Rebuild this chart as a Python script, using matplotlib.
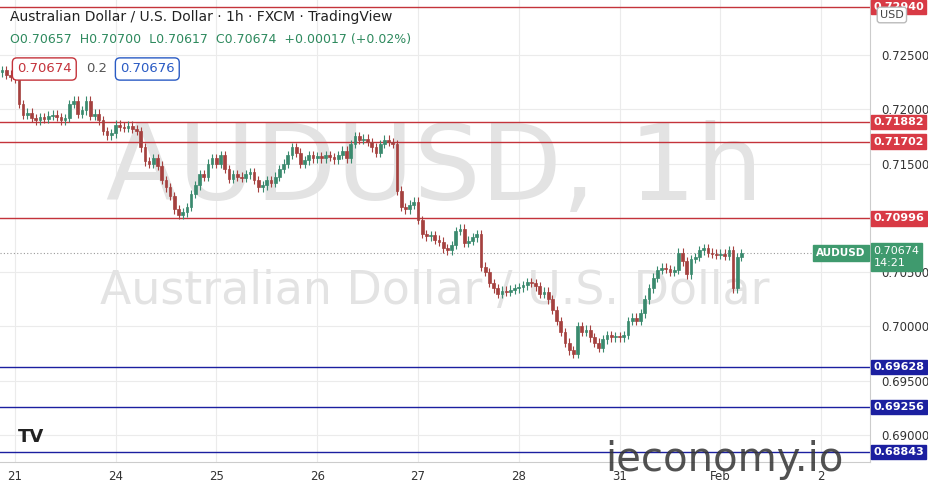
import matplotlib
matplotlib.use("Agg")
import matplotlib.pyplot as plt
from matplotlib.patches import Rectangle

closes = [0.7236,0.7232,0.7230,0.7228,
 0.7205,0.7195,0.7197,0.7192,0.7190,
 0.7193,0.7191,0.7194,0.7195,0.7193,0.7190,0.7192,
 0.7205,0.7208,0.7196,0.7199,
 0.7208,0.7194,0.7196,0.7190,0.7180,0.7176,0.7178,
 0.7186,0.7184,0.7183,0.7185,0.7182,0.7180,
 0.7165,0.7152,0.7150,0.7155,0.7148,0.7135,0.7128,0.7120,
 0.7108,0.7103,0.7105,0.7110,0.7122,0.7130,
 0.7140,0.7138,0.7150,0.7155,0.7150,0.7158,
 0.7145,0.7136,0.7140,0.7138,0.7137,0.7140,0.7142,0.7135,
 0.7128,0.7130,0.7135,0.7132,0.7138,0.7145,0.7150,
 0.7158,0.7165,0.7160,0.7150,0.7153,0.7158,0.7155,
 0.7157,0.7155,0.7158,0.7156,0.7154,0.7158,0.7162,0.7155,
 0.7168,0.7175,0.7172,0.7173,0.7170,0.7165,0.7160,0.7168,
 0.7172,0.7170,0.7168,
 0.7125,0.7110,0.7108,0.7112,0.7115,0.7098,
 0.7085,0.7083,0.7084,0.7080,0.7078,0.7072,0.7070,
 0.7075,0.7088,0.7090,0.7077,0.7079,0.7082,
 0.7085,0.7055,0.7050,0.7040,0.7035,
 0.7030,0.7033,0.7032,0.7034,0.7035,0.7036,0.7038,
 0.7041,0.7040,0.7037,0.7030,0.7032,0.7025,0.7015,
 0.7005,0.6995,0.6985,0.6978,0.6975,0.7000,
 0.6995,0.6997,0.6990,0.6985,0.6980,0.6988,
 0.6992,0.6990,0.6991,0.6990,0.6992,0.7005,0.7008,
 0.7005,0.7012,0.7025,0.7035,0.7045,
 0.7052,0.7054,0.7053,0.7050,0.7052,
 0.7068,0.7060,0.7048,0.7062,0.7064,
 0.7070,0.7072,0.7068,0.7067,0.7066,0.7067,0.7065,
 0.7070,0.7035,0.7064,0.70674]
first_open = 0.7234
day_labels = ["21", "24", "25", "26", "27", "28", "31", "Feb", "2"]
day_index = [3, 27, 51, 75, 99, 123, 147, 171, 195]
red_levels = [0.72940, 0.71882, 0.71702, 0.70996]
blue_levels = [0.69628, 0.69256, 0.68843]
price_ticks = [0.725, 0.720, 0.715, 0.710, 0.705, 0.700, 0.695, 0.690]

UP, DN = "#3a8a6e", "#a5413f"
fig = plt.figure(figsize=(9.29, 4.94), dpi=100)
ax = fig.add_axes([0, 32/494, 870/929, 462/494])
ymin, ymax = 0.68751, 0.73007
xmin, xmax = -0.5, 206.6
ax.set_xlim(xmin, xmax); ax.set_ylim(ymin, ymax)

for p in price_ticks:
    ax.axhline(p, color="#ebebeb", lw=0.8, zorder=0)
for d in day_index:
    ax.axvline(d, color="#ebebeb", lw=0.8, zorder=0)

ax.text(0.50, 0.63, "AUDUSD, 1h", transform=ax.transAxes, fontsize=76, color="#e3e3e3",
        ha="center", va="center", zorder=0.5)
ax.text(0.50, 0.37, "Australian Dollar / U.S. Dollar", transform=ax.transAxes, fontsize=33,
        color="#e3e3e3", ha="center", va="center", zorder=0.5)

opens = [first_open] + closes[:-1]
for i, (o, c) in enumerate(zip(opens, closes)):
    col = UP if c >= o else DN
    hi = max(o, c) + 0.0004
    lo = min(o, c) - 0.0004
    ax.vlines(i, lo, hi, color=col, lw=0.8, zorder=2)
    h = max(abs(c - o), 0.00008)
    ax.add_patch(Rectangle((i - 0.32, min(o, c)), 0.64, h, facecolor=col, edgecolor=col, lw=0.5, zorder=3))

for lv in red_levels:
    ax.axhline(lv, color="#c4333b", lw=1.0, zorder=1)
for lv in blue_levels:
    ax.axhline(lv, color="#1b1fa0", lw=1.0, zorder=1)
ax.axhline(closes[-1], color="#999999", lw=0.8, ls=(0, (1, 2)), zorder=1)

for s in ax.spines.values():
    s.set_visible(False)
ax.spines["right"].set_visible(True); ax.spines["right"].set_color("#cccccc")
ax.spines["bottom"].set_visible(True); ax.spines["bottom"].set_color("#cccccc")
ax.yaxis.tick_right()
ax.set_yticks(price_ticks)
ax.set_yticklabels([f"{p:.5f}" for p in price_ticks], fontsize=8.5, color="#333333")
ax.tick_params(axis="y", length=0, pad=8)
ax.set_xticks(day_index)
ax.set_xticklabels(day_labels, fontsize=8.5, color="#333333")
ax.tick_params(axis="x", length=0, pad=6)

def tag(y, txt, fc):
    ax.text(1.004, y, txt, transform=ax.get_yaxis_transform(), fontsize=8, color="white",
            fontweight="bold", va="center", ha="left",
            bbox=dict(boxstyle="square,pad=0.2", fc=fc, ec=fc), clip_on=False, zorder=5)
for lv in red_levels:
    tag(lv, f"{lv:.5f}", "#d83a45")
for lv in blue_levels:
    tag(lv, f"{lv:.5f}", "#1b1fa0")
ax.text(1.004, closes[-1] - 0.00035, f"{closes[-1]:.5f}" + "\n14:21", transform=ax.get_yaxis_transform(),
        fontsize=8, color="white", va="center", ha="left", linespacing=1.2,
        bbox=dict(boxstyle="square,pad=0.25", fc="#3f9a6e", ec="#3f9a6e"), clip_on=False, zorder=6)
ax.text(0.995, closes[-1], "AUDUSD", transform=ax.get_yaxis_transform(), fontsize=7.5, color="white",
        ha="right", va="center", fontweight="bold",
        bbox=dict(boxstyle="square,pad=0.3", fc="#3f9a6e", ec="#3f9a6e"), zorder=6)

fig.text(10/929, 1 - 17/494, "Australian Dollar / U.S. Dollar · 1h · FXCM · TradingView", fontsize=10,
         color="#222222", va="center")
fig.text(10/929, 1 - 40/494, "O0.70657  H0.70700  L0.70617  C0.70674  +0.00017 (+0.02%)", fontsize=9,
         color="#2e8a5e", va="center")
fig.text(17/929, 1 - 69/494, "0.70674", fontsize=9.5, color="#c4333b", va="center",
         bbox=dict(boxstyle="round,pad=0.35", fc="white", ec="#c4333b"))
fig.text(86/929, 1 - 69/494, "0.2", fontsize=9.5, color="#555555", va="center")
fig.text(120/929, 1 - 69/494, "0.70676", fontsize=9.5, color="#2a5bc4", va="center",
         bbox=dict(boxstyle="round,pad=0.35", fc="white", ec="#2a5bc4"))
fig.text(880/929, 1 - 15/494, "USD", fontsize=8, color="#444444", va="center",
         bbox=dict(boxstyle="round,pad=0.25", fc="white", ec="#bbbbbb"))
fig.text(605/929, 1 - 460/494, "ieconomy.io", fontsize=29, color="#333333", va="center", alpha=0.85)
fig.text(18/929, 1 - 437/494, "TV", fontsize=13, color="#222222", fontweight="bold", va="center")

fig.savefig("out.png", dpi=100)
